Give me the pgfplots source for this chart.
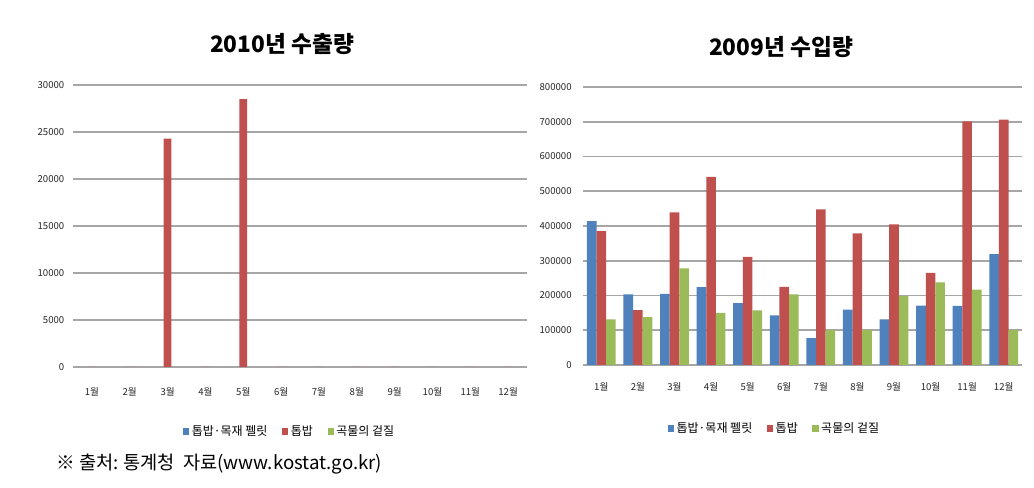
\documentclass[border=0pt]{standalone}
\usepackage{pgfplots}
\pgfplotsset{compat=1.18}
\usepackage{fontspec}
\setmainfont{Noto Sans CJK KR}
\definecolor{sblue}{HTML}{4F81BD}
\definecolor{sred}{HTML}{C0504D}
\definecolor{sgreen}{HTML}{9BBB59}
\definecolor{grid}{HTML}{A6A6A6}
\begin{document}
\begin{tikzpicture}
\fill[white] (0pt,0pt) rectangle (775.5pt,366pt);
\pgfplotsset{
  mybar/.style={
    scale only axis,
    ybar=0pt,
    xmin=0.5, xmax=12.5,
    xtick={1,...,12},
    xticklabels={1월,2월,3월,4월,5월,6월,7월,8월,9월,10월,11월,12월},
    axis x line*=bottom,
    axis y line*=left,
    y axis line style={draw=none},
    x axis line style={draw=grid, line width=1.2pt},
    major tick length=0pt,
    ymajorgrids,
    grid style={draw=grid, line width=1.2pt},
    ymin=0,
    tick label style={font=\fontsize{7.2}{8}\selectfont, text=black!85},
    /pgf/number format/assume math mode=true,
    scaled y ticks=false,
    yticklabel style={/pgf/number format/fixed, /pgf/number format/1000 sep={}},
    legend style={draw=none, fill=none, font=\fontsize{9}{10}\selectfont, legend columns=3,
      /tikz/every even column/.append style={column sep=9pt}},
    legend image code/.code={\fill[#1] (0cm,-0.09cm) rectangle (0.16cm,0.09cm);},
  }
}
\begin{axis}[mybar,
  at={(54.75pt,90.75pt)}, anchor=south west,
  width=340.5pt, height=211.5pt,
  ymax=30000, ytick={0,5000,...,30000},
  xticklabel style={yshift=-12pt},
  yticklabel style={xshift=-3pt},
  bar width=5.8pt,
  legend style={at={(0.478,-0.23)}, anchor=center},
  ]
\addlegendimage{fill=sblue, draw=none}
\addlegendentry{톱밥·목재 펠릿}
\addplot[fill=sred, draw=none, bar shift=0pt] coordinates {
 (1,0) (2,0) (3,24300) (4,0) (5,28500) (6,0) (7,0) (8,0) (9,0) (10,0) (11,0) (12,0)};
\addlegendentry{톱밥}
\addlegendimage{fill=sgreen, draw=none}
\addlegendentry{곡물의 겉질}
\end{axis}
\node[font=\bfseries\fontsize{17}{19}\selectfont] at (211.5pt,333pt) {2010년 수출량};

\begin{axis}[mybar,
  at={(437.25pt,92.25pt)}, anchor=south west,
  width=329.25pt, height=208.5pt,
  ymax=800000, ytick={0,100000,...,800000},
  xticklabel style={yshift=-10pt},
  yticklabel style={xshift=-5pt},
  bar width=7.2pt,
  legend style={at={(0.437,-0.227)}, anchor=center},
  ]
\addplot[fill=sblue, draw=none] coordinates {
 (1,414000) (2,203000) (3,205000) (4,224000) (5,178000) (6,143000)
 (7,77000) (8,159000) (9,131000) (10,171000) (11,170000) (12,319000)};
\addlegendentry{톱밥·목재 펠릿}
\addplot[fill=sred, draw=none] coordinates {
 (1,385000) (2,158000) (3,439000) (4,541000) (5,311000) (6,225000)
 (7,448000) (8,379000) (9,405000) (10,265000) (11,701000) (12,706000)};
\addlegendentry{톱밥}
\addplot[fill=sgreen, draw=none] coordinates {
 (1,131000) (2,138000) (3,278000) (4,150000) (5,157000) (6,203000)
 (7,100000) (8,100000) (9,198000) (10,238000) (11,217000) (12,100000)};
\addlegendentry{곡물의 겉질}
\end{axis}
\node[font=\bfseries\fontsize{17}{19}\selectfont] at (585.75pt,330.75pt) {2009년 수입량};

\node[anchor=west, font=\fontsize{14}{16}\selectfont] at (39pt,18pt) {※ 출처:\ 통계청\ \ 자료(www.kostat.go.kr)};
\end{tikzpicture}
\end{document}
